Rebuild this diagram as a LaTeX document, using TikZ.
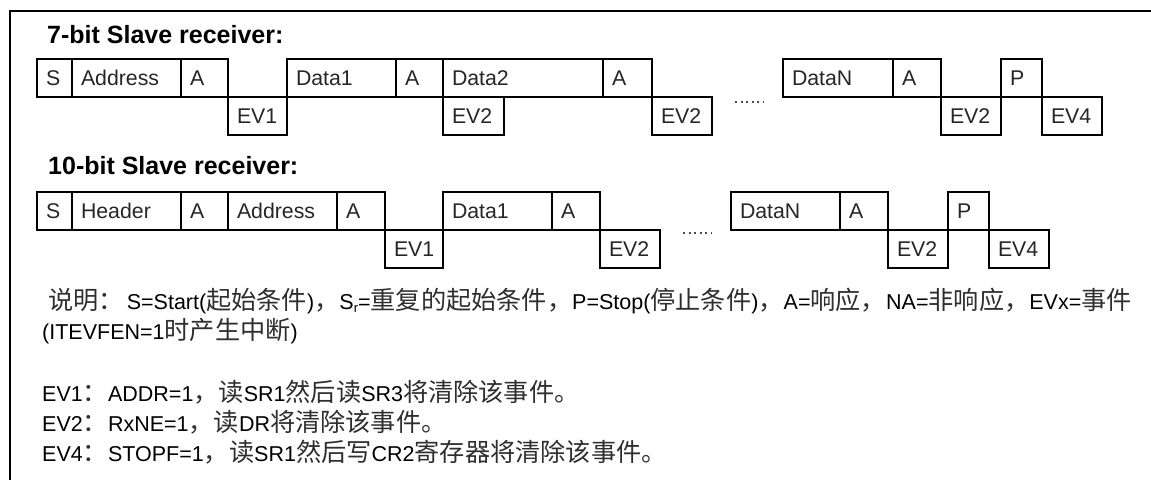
\documentclass[tikz,border=0pt]{standalone}
\usepackage{fontspec}
\setmainfont{Liberation Sans}
\newfontfamily\cjkfont{Noto Sans CJK SC}
\newcommand{\zh}[1]{{\cjkfont\fontsize{25.2}{28}\selectfont\color{black!82}#1}}
\newcommand{\subr}{\raisebox{-0.3ex}{\fontsize{13}{13}\selectfont r}}
\begin{document}
\begin{tikzpicture}[x=1pt,y=-1pt,
  fld/.style={draw, line width=1.4pt, anchor=north west, minimum height=38pt,
    inner xsep=9pt, inner ysep=0pt, outer sep=0pt,
    font=\fontsize{21.3}{21}\selectfont, align=left, text height=15pt, text depth=0pt, text=black!85},
  ttl/.style={anchor=base west, inner sep=0pt, font=\bfseries\fontsize{25}{25}\selectfont},
  txt/.style={anchor=base west, inner sep=0pt, font=\fontsize{21.5}{21}\selectfont},
  frameline/.style={line width=1.6pt},
  dotline/.style={line width=1.2pt, dash pattern=on 2pt off 3.6pt, black!70}]
\useasboundingbox (0,0) rectangle (1151,480);
% frame
\coordinate (fr1) at (1151,11);
\coordinate (fr2) at (10,11);
\coordinate (fr3) at (10,480);
\draw[frameline] (fr1) -- (fr2) -- (fr3);

% ---- 7-bit ----
\node[ttl] (t7) at (47,43) {7-bit Slave receiver:};
\node[fld, text width=17pt]  (a1)  at (37,59)  {S};
\node[fld, text width=91pt]  (a2)  at (72,59)  {Address};
\node[fld, text width=29pt]  (a3)  at (181,59) {A};
\node[fld, text width=41pt]  (a4)  at (228,97) {EV1};
\node[fld, text width=91pt]  (a5)  at (287,59) {Data1};
\node[fld, text width=29pt]  (a6)  at (396,59) {A};
\node[fld, text width=142pt] (a7)  at (443,59) {Data2};
\node[fld, text width=31pt]  (a8)  at (603,59) {A};
\node[fld, text width=43pt]  (a9)  at (443,97) {EV2};
\node[fld, text width=42pt]  (a10) at (652,97) {EV2};
\node[fld, text width=92pt]  (a11) at (783,59) {DataN};
\node[fld, text width=30pt]  (a12) at (893,59) {A};
\node[fld, text width=42pt]  (a13) at (941,97) {EV2};
\node[fld, text width=23pt]  (a14) at (1001,59) {P};
\node[fld, text width=42pt]  (a15) at (1042,97) {EV4};
\coordinate (d1a) at (735,102);
\coordinate (d1b) at (764,102);
\draw[dotline] (d1a) -- (d1b);

% ---- 10-bit ----
\node[ttl] (t10) at (48,174) {10-bit Slave receiver:};
\node[fld, text width=17pt]  (b1)  at (37,192)  {S};
\node[fld, text width=91pt]  (b2)  at (72,192)  {Header};
\node[fld, text width=29pt]  (b3)  at (181,192) {A};
\node[fld, text width=91pt]  (b4)  at (228,192) {Address};
\node[fld, text width=30pt]  (b5)  at (337,192) {A};
\node[fld, text width=40pt]  (b6)  at (385,230) {EV1};
\node[fld, text width=91pt]  (b7)  at (443,192) {Data1};
\node[fld, text width=30pt]  (b8)  at (552,192) {A};
\node[fld, text width=42pt]  (b9)  at (600,230) {EV2};
\node[fld, text width=91pt]  (b10) at (731,192) {DataN};
\node[fld, text width=30pt]  (b11) at (840,192) {A};
\node[fld, text width=42pt]  (b12) at (888,230) {EV2};
\node[fld, text width=23pt]  (b13) at (948,192) {P};
\node[fld, text width=42pt]  (b14) at (989,230) {EV4};
\coordinate (d2a) at (683,233);
\coordinate (d2b) at (712,233);
\draw[dotline] (d2a) -- (d2b);

% ---- notes ----
\node[txt] (n1) at (48,309) {\zh{说明：}\hspace{3pt}S=Start(\zh{起始条件})\zh{，}S\subr=\zh{重复的起始条件，}P=Stop(\zh{停止条件})\zh{，}A=\zh{响应，}NA=\zh{非响应，}EVx=\zh{事件}};
\node[txt] (n2) at (42,339) {(ITEVFEN=1\zh{时产生中断})};
\node[txt] (n3) at (42,401) {EV1\zh{：}ADDR=1\zh{，读}SR1\zh{然后读}SR3\zh{将清除该事件。}};
\node[txt] (n4) at (42,431) {EV2\zh{：}RxNE=1\zh{，读}DR\zh{将清除该事件。}};
\node[txt] (n5) at (42,461) {EV4\zh{：}STOPF=1\zh{，读}SR1\zh{然后写}CR2\zh{寄存器将清除该事件。}};
\end{tikzpicture}
\end{document}
